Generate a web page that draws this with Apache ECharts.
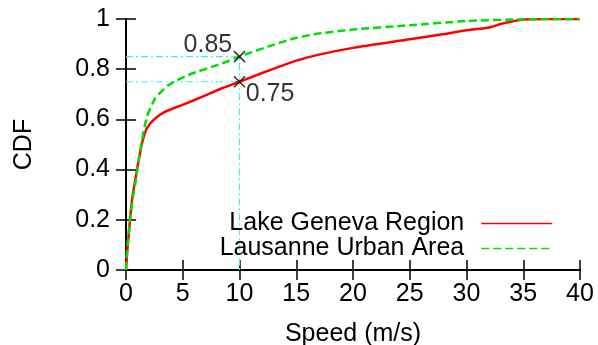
<!DOCTYPE html>
<html>
<head>
<meta charset="utf-8">
<script src="https://cdn.jsdelivr.net/npm/echarts@6/dist/echarts.min.js"></script>
<style>html,body{margin:0;padding:0;background:#fff}#c{width:598px;height:345px}</style>
</head>
<body>
<div id="c"></div>
<script>
const seriesNames = ['Lake Geneva Region', 'Lausanne Urban Area'];
const lakeGeneva = [[0,0],[0.1,0.07],[0.3,0.17],[0.53,0.28],[0.97,0.4],[1.41,0.505],[1.85,0.565],[2.58,0.604],[3.46,0.631],[4.93,0.657],[6.7,0.69],[8.46,0.724],[10,0.75],[12,0.785],[13.5,0.81],[15,0.834],[17,0.858],[20,0.885],[25,0.919],[28,0.94],[30,0.955],[32,0.966],[33,0.98],[34,0.99],[35,0.998],[37,1],[40,1]];
const lausanne = [[0,0],[0.1,0.08],[0.3,0.18],[0.55,0.27],[0.82,0.345],[1.12,0.438],[1.41,0.518],[1.85,0.611],[2.58,0.684],[3.76,0.737],[5.5,0.777],[8.46,0.823],[10,0.85],[12.5,0.89],[15,0.925],[17,0.942],[20,0.958],[25,0.975],[30,0.992],[35,0.999],[40,1]];
const markPoints = [[10,0.85],[10,0.75]];
const markLabels = ['0.85','0.75'];
const xTicks = {min:0, max:40, interval:5};
const yTicks = {min:0, max:1, interval:0.2};

const FONT = 'Liberation Sans';
const FS = 25;
const chart = echarts.init(document.getElementById('c'), null, {renderer:'canvas'});
const axisLine = {show:true, lineStyle:{color:'#000', width:2}};
const axisTick = {show:true, inside:true, length:10, lineStyle:{color:'#000', width:1.5}};
const cyan = '#40f0f0';
chart.setOption({
  animation:false,
  textStyle:{fontFamily:FONT},
  grid:{left:126, right:18, top:19, bottom:75, outerBoundsMode:'none', containLabel:false},
  legend:{
    orient:'vertical', align:'right', right:40, top:206,
    itemWidth:71, itemHeight:14, itemGap:0,
    textStyle:{fontFamily:FONT, fontSize:FS, color:'#000', lineHeight:25, padding:[0,12,0,0]},
    lineStyle:{width:1.5},
    itemStyle:{opacity:0},
    data:seriesNames
  },
  xAxis:[
    {type:'value', ...xTicks, axisLine, axisTick, splitLine:{show:false},
     axisLabel:{fontFamily:FONT, fontSize:FS, color:'#000', margin:12},
     name:'Speed (m/s)', nameLocation:'middle', nameGap:52,
     nameTextStyle:{fontFamily:FONT, fontSize:FS, color:'#000'}},
    {type:'value', position:'top', ...xTicks, axisLine, axisTick, splitLine:{show:false}, axisLabel:{show:false}}
  ],
  yAxis:[
    {type:'value', ...yTicks, axisLine, axisTick, splitLine:{show:false},
     axisLabel:{fontFamily:FONT, fontSize:FS, color:'#000', margin:16},
     name:'CDF', nameLocation:'middle', nameGap:89, nameRotate:90,
     nameTextStyle:{fontFamily:FONT, fontSize:FS, color:'#000'}},
    {type:'value', position:'right', ...yTicks, axisLine, axisTick, splitLine:{show:false}, axisLabel:{show:false}}
  ],
  series:[
    {type:'line', silent:true, symbol:'none', data:[[0,markPoints[0][1]],markPoints[0],[markPoints[0][0],0]],
     lineStyle:{color:cyan, width:1.2, type:[7,3,2,3]}, z:1},
    {type:'line', silent:true, symbol:'none', data:[[0,markPoints[1][1]],markPoints[1]],
     lineStyle:{color:cyan, width:1.2, type:[7,3,2,3]}, z:1},
    {name:seriesNames[0], type:'line', symbol:'none', smooth:0.2, data:lakeGeneva,
     lineStyle:{color:'#ff0000', width:2.5}, itemStyle:{color:'#ff0000'}, z:3},
    {name:seriesNames[1], type:'line', symbol:'none', smooth:0.2, data:lausanne,
     lineStyle:{color:'#00e000', width:2.5, type:[8,4]}, itemStyle:{color:'#00e000'}, z:4},
    {type:'scatter', symbol:'path://M0,0L10,10M10,0L0,10', symbolSize:11,
     itemStyle:{color:'transparent', borderColor:'#000', borderWidth:1.5}, z:5,
     data:[
       {value:markPoints[0], label:{show:true, formatter:markLabels[0], position:'left', distance:1, offset:[0,-12], fontFamily:FONT, fontSize:FS, color:'#000'}},
       {value:markPoints[1], label:{show:true, formatter:markLabels[1], position:'right', distance:0, offset:[0,12], fontFamily:FONT, fontSize:FS, color:'#000'}}
     ]}
  ]
});
</script>
</body>
</html>
